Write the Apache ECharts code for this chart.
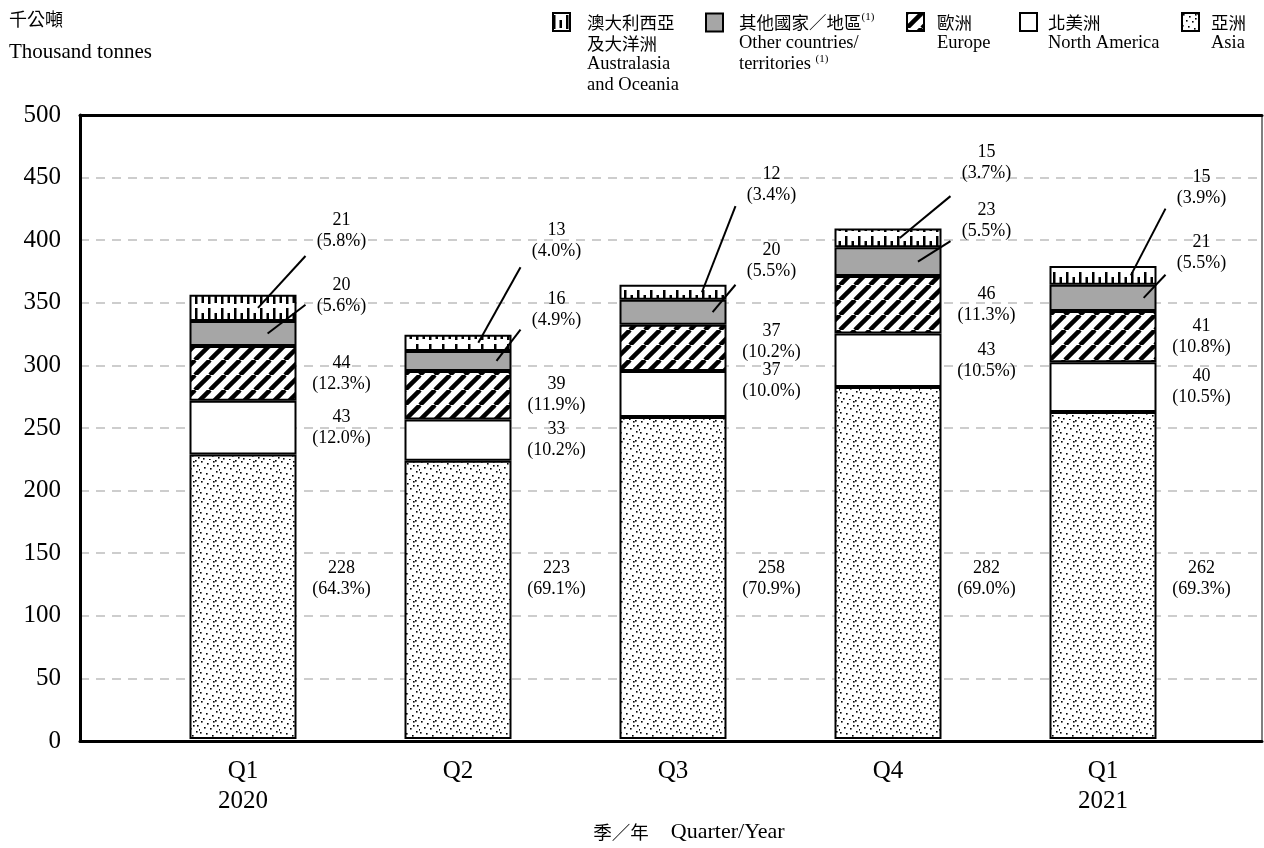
<!DOCTYPE html>
<html>
<head>
<meta charset="utf-8">
<script src="https://cdn.jsdelivr.net/npm/echarts@6/dist/echarts.min.js"></script>
<style>
  html, body { margin: 0; padding: 0; background: #fff; }
  #chart { width: 1264px; height: 848px; }
</style>
</head>
<body>
<div id="chart"></div>
<script>
// ---- data: thousand tonnes by origin, per quarter ----
const categories = ['Q1\n2020', 'Q2', 'Q3', 'Q4', 'Q1\n2021'];
const asia = [228, 223, 258, 282, 262];
const northAmerica = [43, 33, 37, 43, 40];
const europe = [44, 39, 37, 46, 41];
const otherTerritories = [20, 16, 20, 23, 21];
const australasia = [21, 13, 12, 15, 15];

// shares of each quarter's total, in per cent
const asiaShare = ['64.3', '69.1', '70.9', '69.0', '69.3'];
const northAmericaShare = ['12.0', '10.2', '10.0', '10.5', '10.5'];
const europeShare = ['12.3', '11.9', '10.2', '11.3', '10.8'];
const otherShare = ['5.6', '4.9', '5.5', '5.5', '5.5'];
const australasiaShare = ['5.8', '4.0', '3.4', '3.7', '3.9'];

// value axis ticks
const yMin = 0, yMax = 500, yStep = 50;

// ---- label placement (axis units; null = middle of the segment) ----
const labelAt = {
  asia: [128.6, 128.6, 128.6, 128.6, 128.6],
  northAmerica: [null, null, 287, null, null],
  europe: [null, null, 318, null, null],
  otherTerritories: [355, 344, 383, 415, 390],
  australasia: [407, 399, 444, 462, 442]
};
// leader lines for the two small segments: start (fraction of bar width right of centre)
// and end height (axis units)
const leaderFrom = {
  otherTerritories: [0.23, 0.36, 0.37, 0.28, 0.38],
  australasia: [0.14, 0.19, 0.27, 0.11, 0.26]
};
const leaderTo = {
  otherTerritories: [348, 328, 364, 399, 372],
  australasia: [387, 378, 427, 435, 425]
};

// ---- styles ----
const SERIF = "'Liberation Serif', 'Times New Roman', serif";
const CJK = "'Noto Sans CJK TC', 'Noto Sans CJK SC', sans-serif";
const BAR_W = 107;

function makeTile(w, h, draw) {
  const c = document.createElement('canvas');
  c.width = w; c.height = h;
  const g = c.getContext('2d');
  g.fillStyle = '#fff';
  g.fillRect(0, 0, w, h);
  g.fillStyle = '#000';
  g.strokeStyle = '#000';
  draw(g);
  return { image: c, repeat: 'repeat' };
}

// sparse stipple
const dotFill = makeTile(20, 20, g => {
  const pts = [[1, 1], [7, 3], [13, 1], [17, 5], [4, 7], [10, 8], [16, 11], [0, 12],
               [6, 13], [12, 15], [18, 17], [3, 18], [9, 19], [15, 0], [19, 9], [13, 5]];
  pts.forEach(p => g.fillRect(p[0], p[1], 1.6, 1.6));
});
// bold forward diagonals
const stripeFill = makeTile(15, 15, g => {
  g.lineWidth = 4.5;
  for (let k = -1; k <= 1; k++) {
    g.beginPath();
    g.moveTo(k * 15, 15);
    g.lineTo(k * 15 + 15, 0);
    g.stroke();
  }
});
// vertical ticks, alternating tall and short
const tickFill = makeTile(13, 18, g => {
  g.fillRect(0, 2, 2.5, 14);
  g.fillRect(6.5, 7, 2.5, 8);
});

const barStyle = (fill) => ({ color: fill, borderColor: '#000', borderWidth: 2 });

const seriesDefs = [
  { key: 'asia', name: '亞洲', values: asia, share: asiaShare, fill: dotFill },
  { key: 'northAmerica', name: '北美洲', values: northAmerica, share: northAmericaShare, fill: '#ffffff' },
  { key: 'europe', name: '歐洲', values: europe, share: europeShare, fill: stripeFill },
  { key: 'otherTerritories', name: '其他國家／地區', values: otherTerritories, share: otherShare, fill: '#a6a6a6' },
  { key: 'australasia', name: '澳大利西亞及大洋洲', values: australasia, share: australasiaShare, fill: tickFill }
];

const legendText = {
  '澳大利西亞及大洋洲': ['{zh|澳大利西亞}', '{zh|及大洋洲}', '{en|Australasia}', '{en|and Oceania}'],
  '其他國家／地區': ['{zh|其他國家／地區}{sup|(1)}', '{en|Other countries/}', '{en|territories }{sup|(1)}'],
  '歐洲': ['{zh|歐洲}', '{en|Europe}'],
  '北美洲': ['{zh|北美洲}', '{en|North America}'],
  '亞洲': ['{zh|亞洲}', '{en|Asia}']
};
const LEG_LH = 21;
const legendRich = {
  zh: { fontFamily: CJK, fontSize: 17.5, lineHeight: LEG_LH, color: '#000' },
  en: { fontFamily: SERIF, fontSize: 18.5, lineHeight: LEG_LH, color: '#000' },
  sup: { fontFamily: SERIF, fontSize: 11, lineHeight: LEG_LH, verticalAlign: 'top', color: '#000' }
};
const legendSpots = [
  { name: '澳大利西亞及大洋洲', left: 552, gap: 12 },
  { name: '其他國家／地區', left: 705, gap: 11 },
  { name: '歐洲', left: 906, gap: 8 },
  { name: '北美洲', left: 1019, gap: 6 },
  { name: '亞洲', left: 1181, gap: 7 }
];

const legends = legendSpots.map(s => ({
  data: [s.name],
  left: s.left,
  top: 12,
  padding: 0,
  itemWidth: 17,
  itemHeight: 18,
  icon: 'rect',
  selectedMode: false,
  itemStyle: { borderColor: '#000', borderWidth: 2 },
  formatter: n => legendText[n].join('\n'),
  textStyle: {
    padding: [(legendText[s.name].length - 1) * LEG_LH, 0, 0, s.gap],
    rich: legendRich
  }
}));

const barSeries = seriesDefs.map(d => ({
  type: 'bar',
  name: d.name,
  stack: 'total',
  xAxisIndex: 1,
  yAxisIndex: 1,
  barWidth: BAR_W,
  data: d.values,
  itemStyle: barStyle(d.fill),
  emphasis: { disabled: true }
}));

// value labels and leader lines, positioned through the axes
const labelSeries = {
  type: 'custom',
  xAxisIndex: 1,
  yAxisIndex: 1,
  z: 10,
  silent: true,
  clip: false,
  data: categories.map((c, i) => [i, 0]),
  encode: { x: 0, y: 1 },
  renderItem: (params, api) => {
    const i = api.value(0);
    const cx = api.coord([i, 0])[0];
    const right = cx + BAR_W / 2;
    const children = [];
    let base = 0;
    seriesDefs.forEach(d => {
      const v = d.values[i];
      const mid = base + v / 2;
      base += v;
      const at = labelAt[d.key][i];
      const ly = api.coord([i, at == null ? mid : at])[1];
      children.push({
        type: 'text',
        x: right + 45,
        y: ly,
        style: {
          text: v + '\n(' + d.share[i] + '%)',
          fontFamily: SERIF,
          fontSize: 18,
          lineHeight: 21,
          align: 'center',
          verticalAlign: 'middle',
          fill: '#000'
        }
      });
      if (leaderFrom[d.key]) {
        const p0 = [cx + leaderFrom[d.key][i] * BAR_W, api.coord([i, mid])[1]];
        const p1 = [right + 9, api.coord([i, leaderTo[d.key][i]])[1]];
        children.push({
          type: 'line',
          shape: { x1: p0[0], y1: p0[1], x2: p1[0], y2: p1[1] },
          style: { stroke: '#000', lineWidth: 2 }
        });
      }
    });
    return { type: 'group', children };
  }
};

const chart = echarts.init(document.getElementById('chart'), null, { renderer: 'canvas' });
chart.setOption({
  animation: false,
  backgroundColor: '#fff',
  title: {
    text: '千公噸',
    subtext: 'Thousand tonnes',
    left: 9,
    top: 9,
    padding: 0,
    itemGap: 12,
    textStyle: { fontFamily: CJK, fontSize: 18, fontWeight: 'normal', color: '#000', lineHeight: 20 },
    subtextStyle: { fontFamily: SERIF, fontSize: 21, color: '#000', lineHeight: 22 }
  },
  legend: legends,
  grid: [
    { left: 80, right: 2, top: 115, bottom: 107, show: true, borderColor: '#000', borderWidth: 1, backgroundColor: 'transparent' },
    { left: 135.5, right: 53.5, top: 115, bottom: 107 }
  ],
  xAxis: [
    { type: 'category', gridIndex: 0, data: [''], position: 'bottom',
      axisLine: { lineStyle: { color: '#000', width: 3 } }, axisTick: { show: false }, axisLabel: { show: false } },
    { type: 'category', gridIndex: 1, data: categories, position: 'bottom',
      axisLine: { show: false }, axisTick: { show: false },
      axisLabel: { fontFamily: SERIF, fontSize: 25, lineHeight: 30, color: '#000', margin: 17, interval: 0 },
      name: '{zh|季／年}{en|Quarter/Year}',
      nameLocation: 'middle',
      nameGap: 80,
      nameTextStyle: {
        padding: [0, 0, 0, 32],
        rich: {
          zh: { fontFamily: CJK, fontSize: 18.5, color: '#000' },
          en: { fontFamily: SERIF, fontSize: 22, color: '#000', padding: [0, 0, 0, 22] }
        }
      }
    },
    { type: 'category', gridIndex: 0, data: [''], position: 'top',
      axisLine: { lineStyle: { color: '#000', width: 3 } }, axisTick: { show: false }, axisLabel: { show: false } }
  ],
  yAxis: [
    { type: 'value', gridIndex: 0, min: yMin, max: yMax, interval: yStep,
      axisLine: { show: true, lineStyle: { color: '#000', width: 3 } },
      axisTick: { show: false },
      axisLabel: { fontFamily: SERIF, fontSize: 25, color: '#000', margin: 19 },
      splitLine: { lineStyle: { color: '#bdbdbd', width: 1.5, type: [9, 7] } } },
    { type: 'value', gridIndex: 1, min: yMin, max: yMax, interval: yStep, show: false, splitLine: { show: false } }
  ],
  series: [...barSeries, labelSeries]
});
</script>
</body>
</html>
